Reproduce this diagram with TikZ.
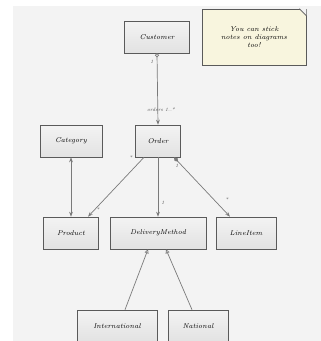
\documentclass[tikz,border=0pt]{standalone}
\usetikzlibrary{arrows.meta}
\usetikzlibrary{positioning}
\usepackage{xcolor}

\definecolor{paper}{HTML}{F3F3F3}
\definecolor{boxfill}{HTML}{E2E2E2}
\definecolor{boxline}{HTML}{5A5A5A}
\definecolor{wire}{HTML}{7A7A7A}
\definecolor{notefill}{HTML}{F8F5DE}

\begin{document}
\begin{tikzpicture}[x=1pt, y=-1pt,
		every node/.style={font=\scriptsize\itshape},
		classbox/.style={draw=boxline, line width=0.6pt, top color=paper, bottom color=boxfill, shape=rectangle, minimum height=32pt, inner sep=1pt},
		link/.style={draw=wire, line width=0.7pt},
		mult/.style={font=\tiny\itshape, text=black!70}]
		\useasboundingbox (0,0) rectangle (321,341);
		\fill[paper] (13,6) rectangle (321,341);
		
		% classes
		\node[classbox, minimum width=65pt] (customer) at (157,37) {Customer};
		\node[classbox, minimum width=45pt] (order) at (158,141) {Order};
		\node[classbox, minimum width=62pt] (category) at (71,141) {Category};
		\node[classbox, minimum width=55pt] (product) at (71,233) {Product};
		\node[classbox, minimum width=96pt] (delivery) at (158,233) {DeliveryMethod};
		\node[classbox, minimum width=60pt] (lineitem) at (246,233) {LineItem};
		\node[classbox, minimum width=80pt] (intl) at (117,326) {International};
		\node[classbox, minimum width=60pt] (natl) at (198,326) {National};
		
		% note
		\node[draw=boxline, line width=0.6pt, fill=notefill, minimum width=104pt, minimum height=56pt, align=center] (note) at (254,37) {You can stick\\notes on diagrams\\too!};
		\fill[paper] ([xshift=-7pt]note.north east) -- (note.north east) -- ([yshift=-7pt]note.north east) -- cycle;
		\draw[boxline, line width=0.6pt] ([xshift=-7pt]note.north east) -- ([yshift=-7pt]note.north east);
		
		% associations
		\draw[link, {Circle[open, length=4pt]}-{Stealth[length=5pt]}] (customer.south) -- (order.north);
		\node[mult] at (152,62) {1};
		\node[mult] at (161,110) {orders 1..*};
		
		\draw[link, {Stealth[length=5pt]}-{Stealth[length=5pt]}] (category.south) -- (product.north);
		
		\draw[link, -{Stealth[length=5pt]}] ([xshift=-14pt]order.south) -- ([xshift=17pt]product.north);
		\node[mult] at (131,158) {*};
		\node[mult] at (98,210) {*};
		
		\draw[link, -{Stealth[length=5pt]}] (order.south) -- (delivery.north);
		\node[mult] at (163,203) {1};
		
		\draw[link, {Diamond[length=6pt, width=4pt]}-{Stealth[length=5pt]}] ([xshift=16pt]order.south) -- ([xshift=-16pt]lineitem.north);
		\node[mult] at (177,166) {1};
		\node[mult] at (227,200) {*};
		
		% generalisations
		\draw[link, -{Triangle[open, length=4pt, width=4pt]}] ([xshift=8pt]intl.north) -- ([xshift=-10pt]delivery.south);
		\draw[link, -{Triangle[open, length=4pt, width=4pt]}] ([xshift=-6pt]natl.north) -- ([xshift=8pt]delivery.south);
	\end{tikzpicture}
\end{document}
